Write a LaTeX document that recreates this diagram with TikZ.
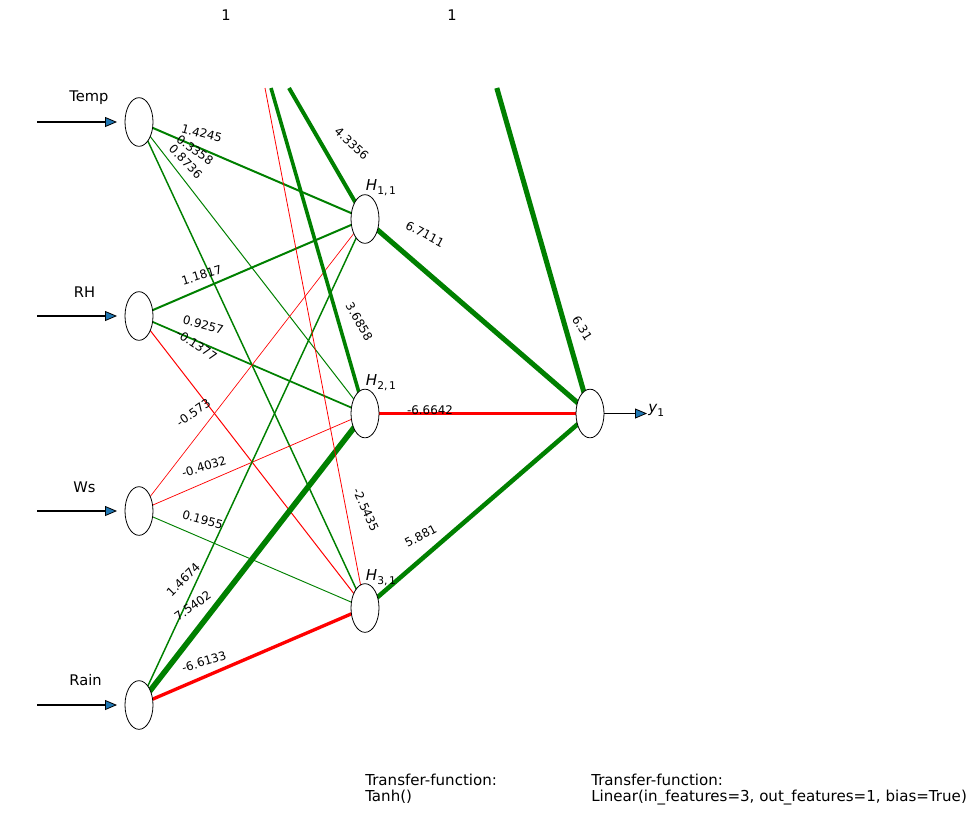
\documentclass[tikz,border=0pt]{standalone}
\usepackage{fontspec}
\setmainfont{DejaVu Sans}
\usetikzlibrary{arrows.meta,shapes.geometric,backgrounds}
\definecolor{mplgreen}{RGB}{0,128,0}
\definecolor{mplred}{RGB}{255,0,0}
\definecolor{mplblue}{HTML}{1F77B4}
\newcommand\subtxt[1]{\raisebox{-0.28em}{\fontsize{8}{9}\selectfont #1}}
\begin{document}
\begin{tikzpicture}[x=0.75pt,y=-0.75pt,
  neuron/.style={draw=black, line width=0.6pt, fill=white, ellipse,
    minimum width=21pt, minimum height=36.5pt, inner sep=0pt},
  pw/.style={draw=mplgreen, line width=#1},
  nw/.style={draw=mplred, line width=#1},
  wlab/.style={font=\fontsize{8.9}{10}\selectfont, inner sep=0pt, text=black},
  nlab/.style={font=\fontsize{11}{13}\selectfont, inner sep=0pt},
  hlab/.style={font=\fontsize{11.3}{13}\selectfont, inner sep=0pt},
  inarrow/.style={draw=black, line width=1.25pt,
    -{Triangle[length=9pt,width=7.5pt,fill=mplblue,line width=0.6pt]}},
  ftext/.style={font=\fontsize{11.3}{13}\selectfont, inner sep=0pt, anchor=base west}
]
\useasboundingbox (0,0) rectangle (973,814);

% neurons
\node[neuron] (i1) at (139,122) {};
\node[neuron] (i2) at (139,316) {};
\node[neuron] (i3) at (139,511) {};
\node[neuron] (i4) at (139,705) {};
\node[neuron] (h1) at (365,219) {};
\node[neuron] (h2) at (365,413.5) {};
\node[neuron] (h3) at (365,608) {};
\node[neuron] (o) at (590,413.5) {};

% free ends of the bias connectors (clipped at the top of the plot area)
\coordinate (b1h1) at (289,88);
\coordinate (b1h2) at (271,88);
\coordinate (b1h3) at (265,88);
\coordinate (b2o) at (496.8,88);

\begin{scope}[on background layer]
  \draw[pw=1.5pt] (i1.center) -- (h1.center);
  \draw[pw=0.75pt] (i1.center) -- (h2.center);
  \draw[pw=1.1pt] (i1.center) -- (h3.center);
  \draw[pw=1.5pt] (i2.center) -- (h1.center);
  \draw[pw=1.3pt] (i2.center) -- (h2.center);
  \draw[nw=0.75pt] (i2.center) -- (h3.center);
  \draw[nw=0.5pt] (i3.center) -- (h1.center);
  \draw[nw=0.55pt] (i3.center) -- (h2.center);
  \draw[pw=0.7pt] (i3.center) -- (h3.center);
  \draw[pw=1.1pt] (i4.center) -- (h1.center);
  \draw[pw=4.2pt] (i4.center) -- (h2.center);
  \draw[nw=2.5pt] (i4.center) -- (h3.center);
  \draw[pw=3pt] (b1h1) -- (h1.center);
  \draw[pw=2.7pt] (b1h2) -- (h2.center);
  \draw[nw=0.6pt] (b1h3) -- (h3.center);
  \draw[pw=3.8pt] (h1.center) -- (o.center);
  \draw[nw=2.5pt] (h2.center) -- (o.center);
  \draw[pw=3.4pt] (h3.center) -- (o.center);
  \draw[pw=3.8pt] (b2o) -- (o.center);
\end{scope}

% weight labels
\node[wlab, rotate=-15] (w1) at (201.7,133.3) {1.4245};
\node[wlab, rotate=-35] (w2) at (195,150) {0.3358};
\node[wlab, rotate=-46] (w3) at (185.7,161.7) {0.8736};
\node[wlab, rotate=17] (w4) at (201.7,275) {1.1817};
\node[wlab, rotate=-15] (w5) at (203.3,325) {0.9257};
\node[wlab, rotate=-34] (w6) at (196.7,345) {-0.1377};
\node[wlab, rotate=35] (w7) at (193.3,412.7) {-0.573};
\node[wlab, rotate=17] (w8) at (204,466.7) {-0.4032};
\node[wlab, rotate=-15] (w9) at (202.7,520) {0.1955};
\node[wlab, rotate=45] (w10) at (183.3,579.3) {1.4674};
\node[wlab, rotate=35] (w11) at (192.7,606) {7.5402};
\node[wlab, rotate=17] (w12) at (204,661.7) {-6.6133};
\node[wlab, rotate=-43] (w13) at (351.7,143.3) {4.3356};
\node[wlab, rotate=-60] (w14) at (359.3,321.7) {3.6858};
\node[wlab, rotate=-66] (w15) at (366,510) {-2.5435};
\node[wlab, rotate=-28] (w16) at (425,234) {6.7111};
\node[wlab] (w17) at (430,410) {-6.6642};
\node[wlab, rotate=28] (w18) at (420.7,536) {5.881};
\node[wlab, rotate=-58] (w19) at (582.3,328.3) {6.31};

% hidden / output labels
\node[hlab] (lh1) at (381,188) {\textit{H}\subtxt{1,\,1}};
\node[hlab] (lh2) at (381,383) {\textit{H}\subtxt{2,\,1}};
\node[hlab] (lh3) at (381,578) {\textit{H}\subtxt{3,\,1}};

% input arrows and labels
\coordinate (a1s) at (37,122);   \coordinate (a1e) at (117,122);
\coordinate (a2s) at (37,316);   \coordinate (a2e) at (117,316);
\coordinate (a3s) at (37,511);   \coordinate (a3e) at (117,511);
\coordinate (a4s) at (37,705);   \coordinate (a4e) at (117,705);
\draw[inarrow] (a1s) -- (a1e);
\draw[inarrow] (a2s) -- (a2e);
\draw[inarrow] (a3s) -- (a3e);
\draw[inarrow] (a4s) -- (a4e);
\node[nlab] (l1) at (89,98) {Temp};
\node[nlab] (l2) at (84.5,292) {RH};
\node[nlab] (l3) at (84.5,487) {Ws};
\node[nlab] (l4) at (85.5,680.5) {Rain};

% output arrow and label
\coordinate (oe) at (647,413.5);
\draw[inarrow] (o.east) -- (oe);
\node[hlab, anchor=west] (ly) at (648,410) {\textit{y}\subtxt{1}};

% bias labels
\node[nlab] (bl1) at (226,15) {1};
\node[nlab] (bl2) at (452,15) {1};

% transfer functions
\node[ftext] (tf1a) at (365,785) {Transfer-function:};
\node[ftext] (tf1b) at (365,801) {Tanh()};
\node[ftext] (tf2a) at (591,785) {Transfer-function:};
\node[ftext] (tf2b) at (591,801) {Linear(in\_features=3, out\_features=1, bias=True)};
\end{tikzpicture}
\end{document}
